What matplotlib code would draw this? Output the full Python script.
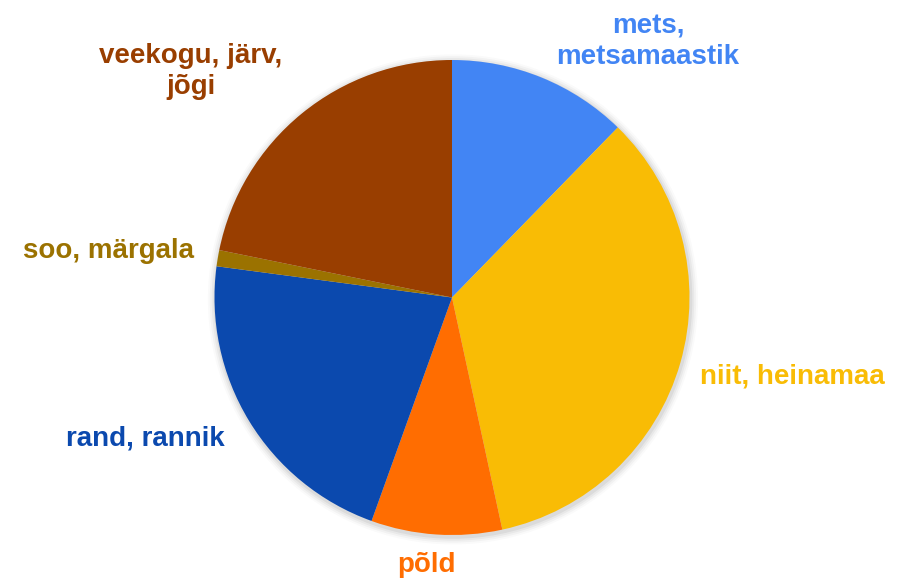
import matplotlib
matplotlib.use("Agg")
import matplotlib.pyplot as plt
from matplotlib.patches import Circle

categories = ["mets,\nmetsamaastik", "niit, heinamaa", "põld", "rand, rannik",
              "soo, märgala", "veekogu, järv,\njõgi"]
values = [12.3, 34.3, 8.9, 21.6, 1.1, 21.8]
colors = ["#4285F4", "#F9BC05", "#FF6D01", "#0B49AE", "#9B7200", "#993E00"]

# label anchor positions in pixels (x, baseline of first line), alignment
label_pos = [(648, 33, "center"), (700, 383, "left"), (426, 572, "center"),
             (225, 445, "right"), (194, 258, "right"), (191, 63, "center")]

W, H = 910, 580
fig = plt.figure(figsize=(W / 100, H / 100), dpi=100)
fig.patch.set_facecolor("white")

cx, cy, r = 452, 297.5, 237.5
ax = fig.add_axes([(cx - r) / W, (H - cy - r) / H, 2 * r / W, 2 * r / H])

# subtle shadow
for i, a in enumerate([0.05, 0.04, 0.03, 0.02]):
    ax.add_patch(Circle((0.004, -0.008), 1.0 + 0.008 * (i + 1), color="black",
                        alpha=a, lw=0, zorder=0, clip_on=False))

ax.pie(values, colors=colors, startangle=90, counterclock=False, radius=1.0,
       wedgeprops=dict(linewidth=0, zorder=1))
ax.set_xlim(-1, 1)
ax.set_ylim(-1, 1)
ax.set_aspect("auto")
ax.axis("off")

for lab, (x, y, ha), col in zip(categories, label_pos, colors):
    lines = lab.split("\n")
    for k, line in enumerate(lines):
        fig.text(x / W, 1 - (y + 31 * k) / H, line, ha=ha, va="baseline",
                 color=col, fontsize=20, fontweight="bold",
                 family=["Liberation Sans", "DejaVu Sans"])

fig.savefig("out.png", dpi=100, facecolor="white")
